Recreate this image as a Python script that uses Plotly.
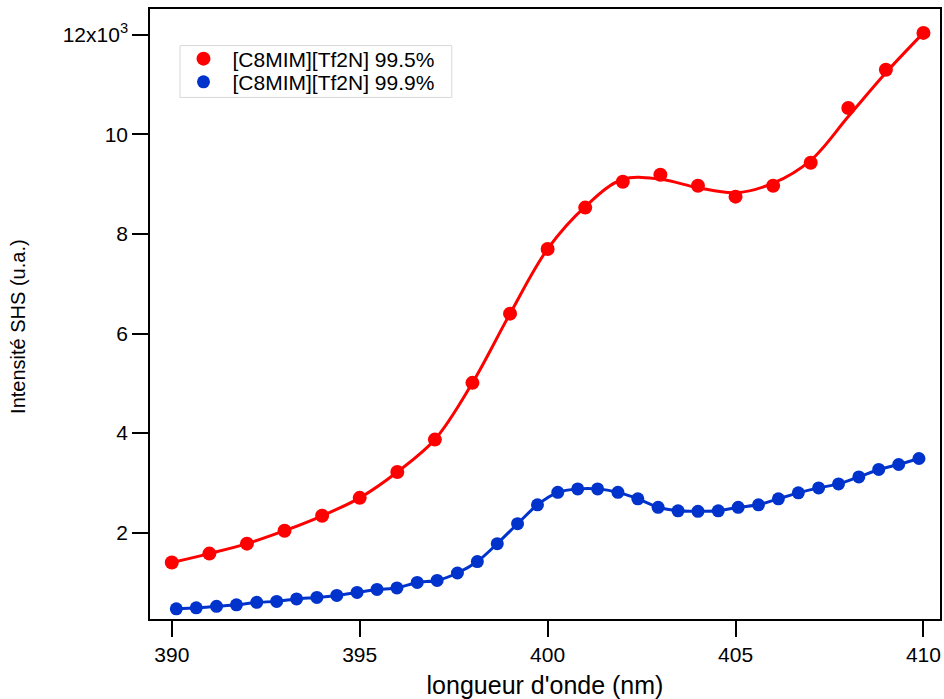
"""
SHS intensity spectra of [C8MIM][Tf2N] at two purities.
Red: 99.5 % (points + smooth fit), blue: 99.9 % (points + smooth line).
"""

import plotly.graph_objects as go


# wavelength (nm) and intensity (x10^3 a.u.)
WL_995 = [390, 391, 392, 393, 394, 395, 396, 397, 398, 399, 400,
          401, 402, 403, 404, 405, 406, 407, 408, 409, 410]
INT_995 = [1.40, 1.58, 1.78, 2.04, 2.34, 2.70, 3.22, 3.87, 5.01, 6.40, 7.70,
           8.53, 9.05, 9.19, 8.97, 8.75, 8.97, 9.43, 10.53, 11.30, 12.04]
# smooth fit curve drawn through the 99.5 % points
FIT_995 = [1.40, 1.58, 1.78, 2.04, 2.34, 2.70, 3.22, 3.87, 5.01, 6.40, 7.70,
           8.55, 9.10, 9.10, 8.93, 8.83, 9.02, 9.48, 10.36, 11.24, 12.04]

WL_999 = [390.12, 390.65, 391.19, 391.72, 392.26, 392.79, 393.32, 393.86,
          394.39, 394.93, 395.46, 395.99, 396.53, 397.06, 397.60, 398.13,
          398.66, 399.20, 399.73, 400.27, 400.80, 401.33, 401.87, 402.40,
          402.94, 403.47, 404.00, 404.54, 405.07, 405.61, 406.14, 406.67,
          407.21, 407.74, 408.28, 408.81, 409.34, 409.88]
INT_999 = [0.47, 0.49, 0.52, 0.55, 0.60, 0.62, 0.67, 0.70,
           0.74, 0.80, 0.86, 0.89, 1.00, 1.04, 1.19, 1.42,
           1.78, 2.18, 2.56, 2.81, 2.88, 2.88, 2.81, 2.68,
           2.51, 2.44, 2.43, 2.44, 2.51, 2.56, 2.68, 2.80,
           2.90, 2.98, 3.12, 3.27, 3.37, 3.49]

X_TICKS = [390, 395, 400, 405, 410]
Y_TICKS = [2, 4, 6, 8, 10, 12]
Y_TICKTEXT = ['2', '4', '6', '8', '10', '12x10<sup>3</sup>']

RED = '#ff0000'
BLUE = '#0033cc'
FONT = 'Liberation Sans, Arial, sans-serif'


fig = go.Figure()

# smooth curves (no legend entry)
fig.add_trace(go.Scatter(
    x=WL_995, y=FIT_995,
    mode='lines',
    line=dict(color=RED, width=3, shape='spline', smoothing=1),
    showlegend=False,
    hoverinfo='skip'
))
fig.add_trace(go.Scatter(
    x=WL_999, y=INT_999,
    mode='lines',
    line=dict(color=BLUE, width=3, shape='spline', smoothing=0.8),
    showlegend=False,
    hoverinfo='skip'
))

# measured points, one legend each so the rows sit tight like the original
fig.add_trace(go.Scatter(
    x=WL_995, y=INT_995,
    mode='markers',
    marker=dict(color=RED, size=14),
    name='[C8MIM][Tf2N] 99.5%',
    legend='legend'
))
fig.add_trace(go.Scatter(
    x=WL_999, y=INT_999,
    mode='markers',
    marker=dict(color=BLUE, size=13),
    name='[C8MIM][Tf2N] 99.9%',
    legend='legend2'
))

legend_style = dict(
    xanchor='left', yanchor='middle',
    bgcolor='rgba(0,0,0,0)',
    borderwidth=0,
    font=dict(size=21),
    itemwidth=48
)

fig.update_layout(
    width=944,
    height=699,
    margin=dict(l=150, r=4, t=9, b=80),
    paper_bgcolor='white',
    plot_bgcolor='white',
    font=dict(family=FONT, size=21, color='black'),
    legend=dict(x=0.031, y=0.918, **legend_style),
    legend2=dict(x=0.031, y=0.880, **legend_style)
)

# thin grey frame around the legend
fig.add_shape(
    type='rect',
    xref='paper', yref='paper',
    x0=0.038, x1=0.382, y0=0.855, y1=0.940,
    line=dict(color='#d8d8d8', width=1),
    fillcolor='white',
    layer='below'
)

# y-axis title placed by hand (left of the tick labels)
fig.add_annotation(
    text='Intensité SHS (u.a.)',
    x=-0.167, y=0.479,
    xref='paper', yref='paper',
    xanchor='center', yanchor='middle',
    textangle=-90,
    showarrow=False,
    font=dict(size=20)
)

fig.update_xaxes(
    range=[389.42, 410.44],
    tickvals=X_TICKS,
    ticks='outside',
    ticklen=16,
    tickwidth=1.5,
    tickcolor='black',
    showline=True,
    linecolor='black',
    linewidth=1.5,
    mirror=True,
    showgrid=False,
    zeroline=False,
    automargin=False,
    title=dict(text="longueur d'onde (nm)", standoff=12)
)

fig.update_yaxes(
    range=[0.266, 12.52],
    tickvals=Y_TICKS,
    ticktext=Y_TICKTEXT,
    ticks='outside',
    ticklen=16,
    tickwidth=1.5,
    tickcolor='black',
    showline=True,
    linecolor='black',
    linewidth=1.5,
    mirror=True,
    showgrid=False,
    zeroline=False,
    automargin=False
)

# drop the default page margin so the figure fills the window exactly
fig.write_html(
    "out.html",
    config={'displayModeBar': False},
    post_script="document.body.style.margin='0';"
)
